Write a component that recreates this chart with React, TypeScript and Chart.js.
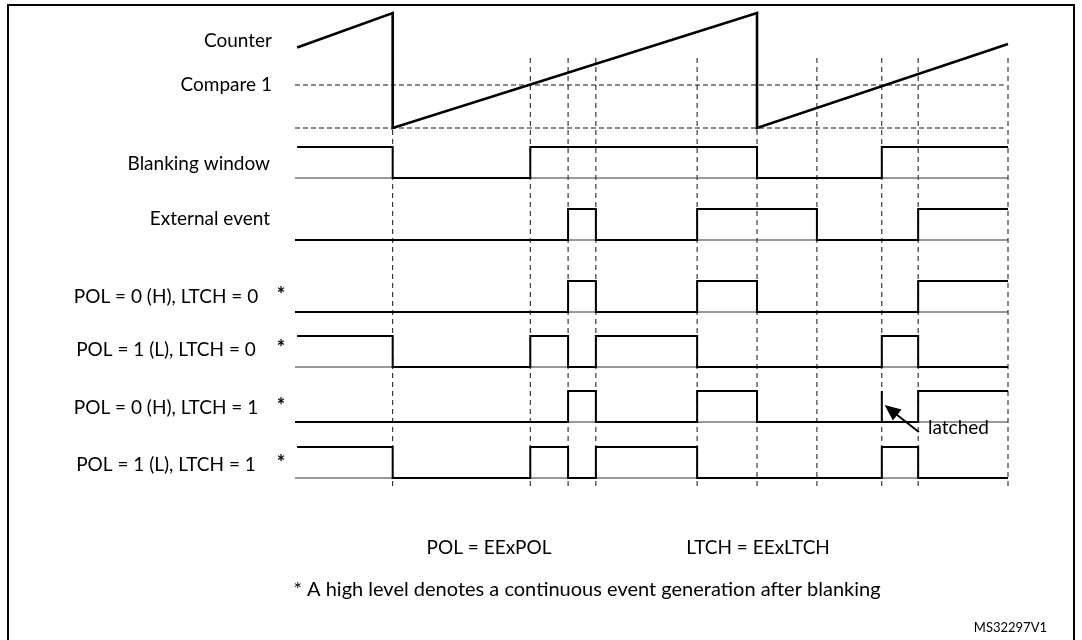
import React, { useEffect, useRef } from 'react';
import { Chart, registerables } from 'chart.js';

Chart.register(...registerables);

// ---------------- DATA (time axis 0..100, levels 0/1) ----------------
const edgeTimes = [13.7, 33.0, 38.3, 42.2, 56.4, 64.8, 73.2, 82.3, 87.4, 100];

const counterTimes = [0.3, 13.7, 13.7, 64.8, 64.8, 100];
const counterValues = [0.7, 1.0, 0.0, 1.0, 0.0, 0.73];
const compareLevel = 0.374;

const blankingTimes = [0.3, 13.7, 33.0, 64.8, 82.3, 100];
const blankingLevels = [1, 0, 1, 0, 1, 1];

const externalTimes = [0, 38.3, 42.2, 56.4, 73.2, 87.4, 100];
const externalLevels = [0, 1, 0, 1, 0, 1, 1];

const pol0ltch0Times = [0, 38.3, 42.2, 56.4, 64.8, 87.4, 100];
const pol0ltch0Levels = [0, 1, 0, 1, 0, 1, 1];

const pol1ltch0Times = [0.3, 13.7, 33.0, 38.3, 42.2, 56.4, 82.3, 87.4, 100];
const pol1ltch0Levels = [1, 0, 1, 0, 1, 0, 1, 0, 0];

const pol0ltch1Times = [0, 38.3, 42.2, 56.4, 64.8, 87.4, 100];
const pol0ltch1Levels = [0, 1, 0, 1, 0, 1, 1];

const pol1ltch1Times = [0.3, 13.7, 33.0, 38.3, 42.2, 56.4, 82.3, 87.4, 100];
const pol1ltch1Levels = [1, 0, 1, 0, 1, 0, 1, 0, 0];

const latchedTime = 82.3;

const rowLabels = [
  'Counter',
  'Compare 1',
  'Blanking window',
  'External event',
  'POL = 0 (H), LTCH = 0',
  'POL = 1 (L), LTCH = 0',
  'POL = 0 (H), LTCH = 1',
  'POL = 1 (L), LTCH = 1',
];
const noteTexts = [
  'POL = EExPOL',
  'LTCH = EExLTCH',
  '* A high level denotes a continuous event generation after blanking',
];
const figureId = 'MS32297V1';
const latchedLabel = 'latched';

// ---------------- LAYOUT / STYLE ----------------
const FONT = 'Lato, "Open Sans", sans-serif';
const Y_MAX = 477; // y units from top of plot area (reversed)
const counterBase = 115;
const counterAmp = 115;
const rowBase = [165, 227, 299, 354, 409, 465];
const rowAmp = 31;
const dashTop = 45;

// label positions in canvas px
const labelPos = [
  { x: 272, y: 41, align: 'right' },
  { x: 272, y: 85, align: 'right' },
  { x: 270, y: 164, align: 'right' },
  { x: 270, y: 219, align: 'right' },
  { x: 166, y: 297, align: 'center', star: true },
  { x: 166, y: 350, align: 'center', star: true },
  { x: 166, y: 408, align: 'center', star: true },
  { x: 166, y: 465, align: 'center', star: true },
];
const notePos = [
  { x: 489, y: 548, size: 19 },
  { x: 758, y: 548, size: 19 },
  { x: 587, y: 590, size: 20 },
];

function stepData(times: number[], levels: number[], base: number) {
  return times.map((t, i) => ({ x: t, y: base - levels[i] * rowAmp }));
}

export default function App() {
  const ref = useRef<HTMLCanvasElement>(null);

  useEffect(() => {
    const canvas = ref.current!;
    const datasets: any[] = [];

    // vertical dashed guide lines
    edgeTimes.forEach((t) => {
      datasets.push({
        data: [{ x: t, y: dashTop }, { x: t, y: Y_MAX }],
        borderColor: '#111',
        borderWidth: 1,
        borderDash: [5, 4],
        order: 5,
      });
    });
    // horizontal dashed lines (compare & counter bottom)
    [compareLevel, 0].forEach((v) => {
      datasets.push({
        data: [{ x: 0, y: counterBase - v * counterAmp }, { x: 99.4, y: counterBase - v * counterAmp }],
        borderColor: '#111',
        borderWidth: 1,
        borderDash: [5, 3],
        order: 5,
      });
    });
    // baselines
    rowBase.forEach((b) => {
      datasets.push({
        data: [{ x: 0, y: b }, { x: 100, y: b }],
        borderColor: '#333',
        borderWidth: 1,
        order: 4,
      });
    });
    // counter
    datasets.push({
      data: counterTimes.map((t, i) => ({ x: t, y: counterBase - counterValues[i] * counterAmp })),
      borderColor: '#000',
      borderWidth: 2.6,
      order: 0,
    });
    // signals
    const sigs: [number[], number[]][] = [
      [blankingTimes, blankingLevels],
      [externalTimes, externalLevels],
      [pol0ltch0Times, pol0ltch0Levels],
      [pol1ltch0Times, pol1ltch0Levels],
      [pol0ltch1Times, pol0ltch1Levels],
      [pol1ltch1Times, pol1ltch1Levels],
    ];
    sigs.forEach(([t, l], i) => {
      datasets.push({
        data: stepData(t, l, rowBase[i]),
        borderColor: '#000',
        borderWidth: 2,
        stepped: true,
        order: 1,
      });
    });
    // latched marker
    datasets.push({
      data: [{ x: latchedTime, y: rowBase[4] }, { x: latchedTime, y: rowBase[4] - rowAmp }],
      borderColor: '#000',
      borderWidth: 2,
      order: 1,
    });
    // arrow shaft
    const arrowTail = { x: 87.5, y: 419 };
    const arrowTip = { x: 82.7, y: 392 };
    datasets.push({
      data: [arrowTail, { x: 84.0, y: 399.5 }],
      borderColor: '#000',
      borderWidth: 2,
      order: 0,
    });

    datasets.forEach((d) => {
      d.showLine = true;
      d.pointRadius = 0;
      d.pointHoverRadius = 0;
      d.clip = false;
      d.fill = false;
      d.tension = 0;
    });

    const overlay = {
      id: 'overlay',
      beforeDraw(c: any) {
        const ctx = c.ctx;
        ctx.save();
        ctx.fillStyle = '#fff';
        ctx.fillRect(0, 0, c.width, c.height);
        ctx.strokeStyle = '#000';
        ctx.lineWidth = 2;
        ctx.strokeRect(8, 5, 1066, 650);
        ctx.restore();
      },
      afterDraw(c: any) {
        const ctx = c.ctx;
        const xs = c.scales.x;
        const ys = c.scales.y;
        ctx.save();
        ctx.fillStyle = '#000';
        ctx.textBaseline = 'middle';
        rowLabels.forEach((txt, i) => {
          const p = labelPos[i];
          ctx.font = `19px ${FONT}`;
          ctx.textAlign = p.align;
          ctx.fillText(txt, p.x, p.y);
          if (p.star) {
            ctx.font = `bold 20px ${FONT}`;
            ctx.textAlign = 'center';
            ctx.fillText('*', 281, p.y - 1);
          }
        });
        ctx.textAlign = 'center';
        noteTexts.forEach((txt, i) => {
          ctx.font = `${notePos[i].size}px ${FONT}`;
          ctx.fillText(txt, notePos[i].x, notePos[i].y);
        });
        ctx.font = `19px ${FONT}`;
        ctx.textAlign = 'left';
        ctx.fillText(latchedLabel, 928, 428);
        ctx.font = `13px ${FONT}`;
        ctx.textAlign = 'right';
        ctx.fillText(figureId, 1047, 628);

        // arrow head
        const tx = xs.getPixelForValue(arrowTip.x);
        const ty = ys.getPixelForValue(arrowTip.y);
        const bx = xs.getPixelForValue(arrowTail.x);
        const by = ys.getPixelForValue(arrowTail.y);
        const ang = Math.atan2(ty - by, tx - bx);
        const len = 16;
        const half = 7;
        const cx = tx - len * Math.cos(ang);
        const cy = ty - len * Math.sin(ang);
        ctx.beginPath();
        ctx.moveTo(tx, ty);
        ctx.lineTo(cx + half * Math.sin(ang), cy - half * Math.cos(ang));
        ctx.lineTo(cx - half * Math.sin(ang), cy + half * Math.cos(ang));
        ctx.closePath();
        ctx.fill();
        ctx.restore();
      },
    };

    const chart = new Chart(canvas, {
      type: 'scatter',
      data: { datasets },
      options: {
        animation: false,
        responsive: false,
        maintainAspectRatio: false,
        devicePixelRatio: 1,
        layout: { padding: { left: 295, right: 74, top: 13, bottom: 150 } },
        plugins: { legend: { display: false }, tooltip: { enabled: false }, title: { display: false } },
        events: [],
        scales: {
          x: { type: 'linear', min: 0, max: 100, display: false },
          y: { type: 'linear', min: 0, max: Y_MAX, reverse: true, display: false },
        },
      },
      plugins: [overlay],
    } as any);
    return () => chart.destroy();
  }, []);

  return (
    <div style={{ position: 'absolute', left: 0, top: 0, width: 1082, height: 640, background: '#fff' }}>
      <canvas ref={ref} width={1082} height={640} style={{ display: 'block', width: 1082, height: 640 }} />
    </div>
  );
}
